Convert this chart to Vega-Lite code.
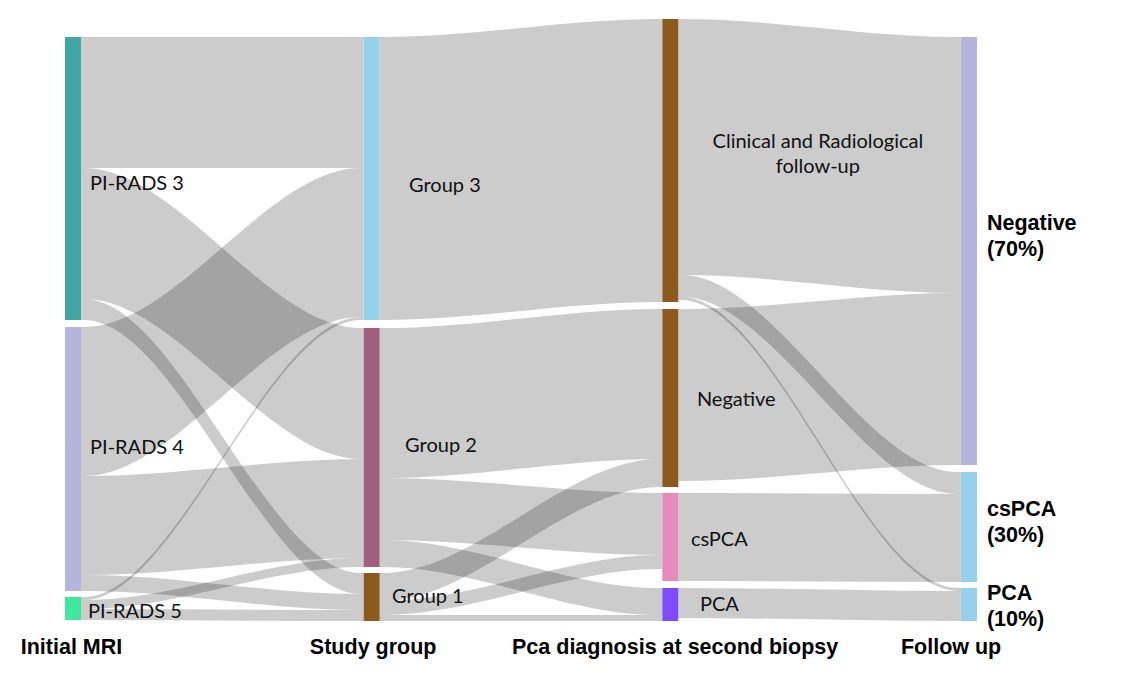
{
  "$schema": "https://vega.github.io/schema/vega-lite/v6.json",
  "width": 1125,
  "height": 693,
  "autosize": {"type": "none"},
  "padding": 0,
  "background": "white",
  "config": {"view": {"stroke": null}},
  "datasets": {
    "links": [
      {"l": "P3G3", "x": 0.027, "y": 131, "y2": 0}, {"l": "P3G3", "x": 0.037, "y": 131, "y2": 0}, {"l": "P3G3", "x": 0.963, "y": 131, "y2": 0}, {"l": "P3G3", "x": 0.973, "y": 131, "y2": 0},
      {"l": "P3G2", "x": 0.027, "y": 262, "y2": 131}, {"l": "P3G2", "x": 0.037, "y": 262, "y2": 131}, {"l": "P3G2", "x": 0.963, "y": 422, "y2": 291}, {"l": "P3G2", "x": 0.973, "y": 422, "y2": 291},
      {"l": "P3G1", "x": 0.027, "y": 283, "y2": 262}, {"l": "P3G1", "x": 0.037, "y": 283, "y2": 262}, {"l": "P3G1", "x": 0.963, "y": 557, "y2": 536}, {"l": "P3G1", "x": 0.973, "y": 557, "y2": 536},
      {"l": "P4G3", "x": 0.027, "y": 439, "y2": 290}, {"l": "P4G3", "x": 0.037, "y": 439, "y2": 290}, {"l": "P4G3", "x": 0.963, "y": 280, "y2": 131}, {"l": "P4G3", "x": 0.973, "y": 280, "y2": 131},
      {"l": "P4G2", "x": 0.027, "y": 538, "y2": 439}, {"l": "P4G2", "x": 0.037, "y": 538, "y2": 439}, {"l": "P4G2", "x": 0.963, "y": 521, "y2": 422}, {"l": "P4G2", "x": 0.973, "y": 521, "y2": 422},
      {"l": "P4G1", "x": 0.027, "y": 554, "y2": 538}, {"l": "P4G1", "x": 0.037, "y": 554, "y2": 538}, {"l": "P4G1", "x": 0.963, "y": 573, "y2": 557}, {"l": "P4G1", "x": 0.973, "y": 573, "y2": 557},
      {"l": "P5G3", "x": 0.027, "y": 563, "y2": 560}, {"l": "P5G3", "x": 0.037, "y": 563, "y2": 560}, {"l": "P5G3", "x": 0.963, "y": 283, "y2": 280}, {"l": "P5G3", "x": 0.973, "y": 283, "y2": 280},
      {"l": "P5G2", "x": 0.027, "y": 572, "y2": 563}, {"l": "P5G2", "x": 0.037, "y": 572, "y2": 563}, {"l": "P5G2", "x": 0.963, "y": 530, "y2": 521}, {"l": "P5G2", "x": 0.973, "y": 530, "y2": 521},
      {"l": "P5G1", "x": 0.027, "y": 583, "y2": 572}, {"l": "P5G1", "x": 0.037, "y": 583, "y2": 572}, {"l": "P5G1", "x": 0.963, "y": 584, "y2": 573}, {"l": "P5G1", "x": 0.973, "y": 584, "y2": 573},
      {"l": "G3Cl", "x": 1.027, "y": 283, "y2": 0}, {"l": "G3Cl", "x": 1.037, "y": 283, "y2": 0}, {"l": "G3Cl", "x": 1.963, "y": 265, "y2": -18}, {"l": "G3Cl", "x": 1.973, "y": 265, "y2": -18},
      {"l": "G2Ne", "x": 1.027, "y": 441, "y2": 291}, {"l": "G2Ne", "x": 1.037, "y": 441, "y2": 291}, {"l": "G2Ne", "x": 1.963, "y": 422, "y2": 272}, {"l": "G2Ne", "x": 1.973, "y": 422, "y2": 272},
      {"l": "G2Cs", "x": 1.027, "y": 503, "y2": 441}, {"l": "G2Cs", "x": 1.037, "y": 503, "y2": 441}, {"l": "G2Cs", "x": 1.963, "y": 518, "y2": 456}, {"l": "G2Cs", "x": 1.973, "y": 518, "y2": 456},
      {"l": "G2Pc", "x": 1.027, "y": 530, "y2": 503}, {"l": "G2Pc", "x": 1.037, "y": 530, "y2": 503}, {"l": "G2Pc", "x": 1.963, "y": 578, "y2": 551}, {"l": "G2Pc", "x": 1.973, "y": 578, "y2": 551},
      {"l": "G1Ne", "x": 1.027, "y": 564, "y2": 536}, {"l": "G1Ne", "x": 1.037, "y": 564, "y2": 536}, {"l": "G1Ne", "x": 1.963, "y": 450, "y2": 422}, {"l": "G1Ne", "x": 1.973, "y": 450, "y2": 422},
      {"l": "G1Cs", "x": 1.027, "y": 578, "y2": 564}, {"l": "G1Cs", "x": 1.037, "y": 578, "y2": 564}, {"l": "G1Cs", "x": 1.963, "y": 532, "y2": 518}, {"l": "G1Cs", "x": 1.973, "y": 532, "y2": 518},
      {"l": "G1Pc", "x": 1.027, "y": 584, "y2": 578}, {"l": "G1Pc", "x": 1.037, "y": 584, "y2": 578}, {"l": "G1Pc", "x": 1.963, "y": 584, "y2": 578}, {"l": "G1Pc", "x": 1.973, "y": 584, "y2": 578},
      {"l": "ClN7", "x": 2.027, "y": 238, "y2": -18}, {"l": "ClN7", "x": 2.037, "y": 238, "y2": -18}, {"l": "ClN7", "x": 2.963, "y": 256, "y2": 0}, {"l": "ClN7", "x": 2.973, "y": 256, "y2": 0},
      {"l": "ClC3", "x": 2.027, "y": 260, "y2": 238}, {"l": "ClC3", "x": 2.037, "y": 260, "y2": 238}, {"l": "ClC3", "x": 2.963, "y": 457, "y2": 435}, {"l": "ClC3", "x": 2.973, "y": 457, "y2": 435},
      {"l": "ClP1", "x": 2.027, "y": 263, "y2": 260}, {"l": "ClP1", "x": 2.037, "y": 263, "y2": 260}, {"l": "ClP1", "x": 2.963, "y": 554, "y2": 551}, {"l": "ClP1", "x": 2.973, "y": 554, "y2": 551},
      {"l": "NeN7", "x": 2.027, "y": 444, "y2": 272}, {"l": "NeN7", "x": 2.037, "y": 444, "y2": 272}, {"l": "NeN7", "x": 2.963, "y": 428, "y2": 256}, {"l": "NeN7", "x": 2.973, "y": 428, "y2": 256},
      {"l": "CsC3", "x": 2.027, "y": 544, "y2": 456}, {"l": "CsC3", "x": 2.037, "y": 544, "y2": 456}, {"l": "CsC3", "x": 2.963, "y": 545, "y2": 457}, {"l": "CsC3", "x": 2.973, "y": 545, "y2": 457},
      {"l": "PcP1", "x": 2.027, "y": 581, "y2": 551}, {"l": "PcP1", "x": 2.037, "y": 581, "y2": 551}, {"l": "PcP1", "x": 2.963, "y": 584, "y2": 554}, {"l": "PcP1", "x": 2.973, "y": 584, "y2": 554}
    ],
    "nodes": [
      {"id": "PI-RADS 3", "x": 0, "y": 0, "y2": 283},
      {"id": "PI-RADS 4", "x": 0, "y": 290, "y2": 554},
      {"id": "PI-RADS 5", "x": 0, "y": 560, "y2": 583},
      {"id": "Group 3", "x": 1, "y": 0, "y2": 283},
      {"id": "Group 2", "x": 1, "y": 291, "y2": 530},
      {"id": "Group 1", "x": 1, "y": 536, "y2": 584},
      {"id": "Clinical and Radiological follow-up", "x": 2, "y": -18, "y2": 265},
      {"id": "Negative (biopsy)", "x": 2, "y": 272, "y2": 450},
      {"id": "csPCA (biopsy)", "x": 2, "y": 456, "y2": 544},
      {"id": "PCA (biopsy)", "x": 2, "y": 551, "y2": 584},
      {"id": "Negative (70%)", "x": 3, "y": 0, "y2": 428},
      {"id": "csPCA (30%)", "x": 3, "y": 435, "y2": 545},
      {"id": "PCA (10%)", "x": 3, "y": 551, "y2": 584}
    ],
    "labels": [
      {"kind": "node", "text": "PI-RADS 3", "x": 0.057, "y": 147},
      {"kind": "node", "text": "PI-RADS 4", "x": 0.057, "y": 411},
      {"kind": "node", "text": "PI-RADS 5", "x": 0.05, "y": 575},
      {"kind": "node", "text": "Group 3", "x": 1.125, "y": 149},
      {"kind": "node", "text": "Group 2", "x": 1.112, "y": 409},
      {"kind": "node", "text": "Group 1", "x": 1.068, "y": 560},
      {"kind": "node", "text": "Negative", "x": 2.089, "y": 363},
      {"kind": "node", "text": "csPCA", "x": 2.069, "y": 503},
      {"kind": "node", "text": "PCA", "x": 2.099, "y": 568},
      {"kind": "center", "text": "Clinical and Radiological\nfollow-up", "x": 2.494, "y": 105},
      {"kind": "final", "text": "Negative\n(70%)", "x": 3.06, "y": 187},
      {"kind": "final", "text": "csPCA\n(30%)", "x": 3.06, "y": 473},
      {"kind": "final", "text": "PCA\n(10%)", "x": 3.06, "y": 557},
      {"kind": "title", "text": "Initial MRI", "x": -0.005, "y": 611},
      {"kind": "title", "text": "Study group", "x": 1.005, "y": 611},
      {"kind": "title", "text": "Pca diagnosis at second biopsy", "x": 2.016, "y": 611},
      {"kind": "title", "text": "Follow up", "x": 2.94, "y": 611}
    ]
  },
  "encoding": {
    "x": {"field": "x", "type": "quantitative", "scale": {"domain": [-0.24442, 3.52232], "nice": false, "zero": false}, "axis": null},
    "y": {"field": "y", "type": "quantitative", "scale": {"domain": [-37, 656], "reverse": true, "nice": false, "zero": false}, "axis": null}
  },
  "layer": [
    {
      "data": {"name": "links"},
      "mark": {"type": "area", "interpolate": "monotone", "color": "black", "fillOpacity": 0.2},
      "encoding": {
        "y2": {"field": "y2"},
        "detail": {"field": "l", "type": "nominal"}
      }
    },
    {
      "data": {"name": "nodes"},
      "mark": {"type": "rule", "strokeWidth": 16, "strokeCap": "butt"},
      "encoding": {
        "y2": {"field": "y2"},
        "color": {
          "field": "id", "type": "nominal", "legend": null,
          "scale": {
            "domain": ["PI-RADS 3", "PI-RADS 4", "PI-RADS 5", "Group 3", "Group 2", "Group 1", "Clinical and Radiological follow-up", "Negative (biopsy)", "csPCA (biopsy)", "PCA (biopsy)", "Negative (70%)", "csPCA (30%)", "PCA (10%)"],
            "range": ["#40a5a5", "#b3b6da", "#3ee89e", "#94d2eb", "#a0607c", "#8c5a1d", "#8c5a1d", "#8c5a1d", "#e58ab9", "#7d4cfc", "#b3b6da", "#94d2eb", "#94d2eb"]
          }
        }
      }
    },
    {
      "data": {"name": "labels"},
      "transform": [{"filter": "datum.kind === 'node'"}],
      "mark": {"type": "text", "align": "left", "baseline": "middle", "font": "Lato", "fontSize": 20, "color": "#111111"},
      "encoding": {"text": {"field": "text"}}
    },
    {
      "data": {"name": "labels"},
      "transform": [{"filter": "datum.kind === 'center'"}],
      "mark": {"type": "text", "align": "center", "baseline": "middle", "font": "Lato", "fontSize": 20, "lineHeight": 25, "lineBreak": "\n", "color": "#111111"},
      "encoding": {"text": {"field": "text"}}
    },
    {
      "data": {"name": "labels"},
      "transform": [{"filter": "datum.kind === 'final'"}],
      "mark": {"type": "text", "align": "left", "baseline": "middle", "font": "Liberation Sans", "fontWeight": "bold", "fontSize": 21.5, "lineHeight": 26, "lineBreak": "\n", "color": "#000000"},
      "encoding": {"text": {"field": "text"}}
    },
    {
      "data": {"name": "labels"},
      "transform": [{"filter": "datum.kind === 'title'"}],
      "mark": {"type": "text", "align": "center", "baseline": "middle", "font": "Liberation Sans", "fontWeight": "bold", "fontSize": 21.5, "color": "#000000"},
      "encoding": {"text": {"field": "text"}}
    }
  ]
}
